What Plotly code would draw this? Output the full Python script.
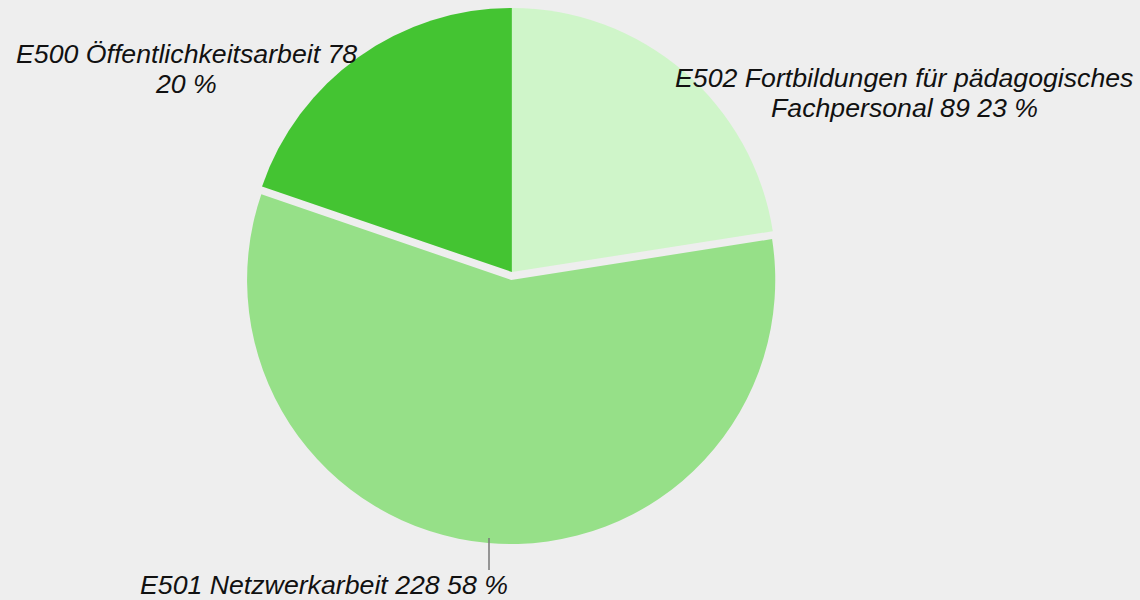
import plotly.graph_objects as go

# data
labels = ['E502 Fortbildungen für pädagogisches', 'E501 Netzwerkarbeit', 'E500 Öffentlichkeitsarbeit']
values = [89, 228, 78]
colors = ['#cff5c9', '#96e088', '#44c432']
pulls = [0, 0.03, 0]
# outside label lines, one list per slice
label_lines = [['E502 Fortbildungen für pädagogisches', 'Fachpersonal 89 23 %'],
               ['E501 Netzwerkarbeit 228 58 %'],
               ['E500 Öffentlichkeitsarbeit 78', '20 %']]

fig = go.Figure()
fig.add_trace(go.Pie(labels=labels, values=values,
                     sort=False, direction='clockwise', rotation=0,
                     pull=pulls, marker=dict(colors=colors),
                     textinfo='none', automargin=False,
                     domain=dict(x=[0.149, 0.749], y=[0.0933, 1.0]),
                     hoverinfo='label+value+percent', showlegend=False))

# label placement (pixel centres of each line) taken from the reference layout
W, H = 1140, 600
label_pos = [[(904, 78), (904, 108)],
             [(324, 585)],
             [(186, 54), (186, 84)]]
font = dict(family='Liberation Sans', size=26.7, color='#111111', style='italic')
for lines, pos in zip(label_lines, label_pos):
    for line, (px, py) in zip(lines, pos):
        fig.add_annotation(text=line, x=px / W, y=1 - py / H, xref='paper', yref='paper',
                           xanchor='center', yanchor='middle', showarrow=False,
                           borderpad=0, font=font)

# leader line of the bottom label
fig.add_shape(type='line', xref='paper', yref='paper',
              x0=489 / W, x1=489 / W, y0=1 - 538 / H, y1=1 - 570 / H,
              line=dict(color='#777777', width=1.5))

fig.update_layout(width=W, height=H,
                  margin=dict(l=0, r=0, t=0, b=0, autoexpand=False),
                  paper_bgcolor='#eeeeee', plot_bgcolor='#eeeeee')

# page without the default body margin
fig.write_html("out.html", config={'displayModeBar': False},
               post_script="document.body.style.margin='0';")
